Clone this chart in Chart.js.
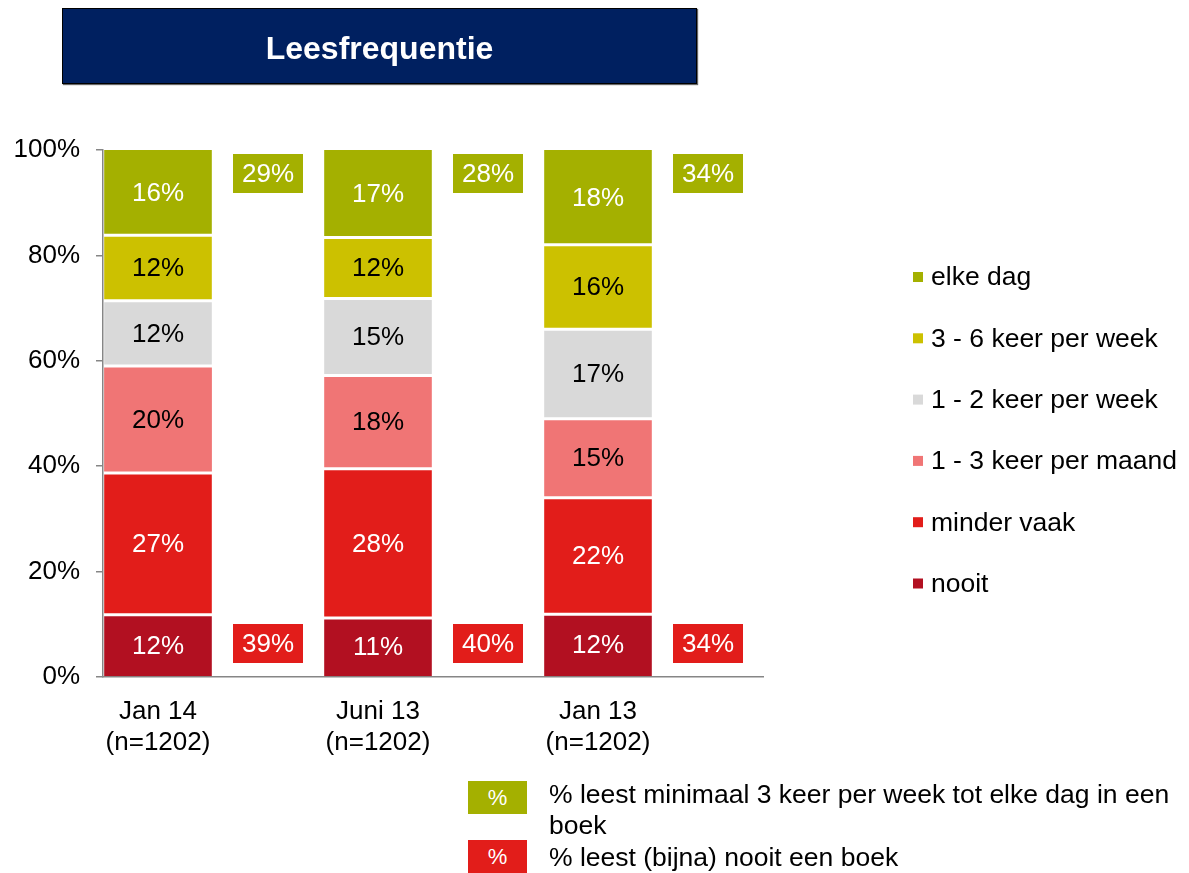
<!DOCTYPE html>
<html lang="nl">
<head>
<meta charset="utf-8">
<title>Leesfrequentie</title>
<script src="https://cdn.jsdelivr.net/npm/chart.js@4.4.0/dist/chart.umd.min.js"></script>
<style>
  html, body { margin: 0; padding: 0; background: #fff; }
  body { width: 1189px; height: 873px; position: relative; overflow: hidden;
         font-family: "Liberation Sans", Arial, sans-serif; }
  #chart { position: absolute; left: 0; top: 0; }
  .title { position: absolute; left: 62px; top: 8px; width: 633px; height: 74px;
           background: #002060; border: 1.5px solid #000; box-shadow: 1px 1px 1px #666;
           color: #fff; font-weight: bold; font-size: 32px; line-height: 78px; text-align: center; }
  .key-box { position: absolute; left: 468px; width: 59px; height: 33px; color: #fff;
             font-size: 22px; line-height: 33px; text-align: center; }
  .key-text { position: absolute; left: 549px; width: 640px; font-size: 26.5px; line-height: 31px; color: #000; }
</style>
</head>
<body>
<canvas id="chart" width="1189" height="873"></canvas>
<div class="title">Leesfrequentie</div>
<div class="key-box" style="top:781px; background:#A4B000;">%</div>
<div class="key-text" style="top:779px;">% leest minimaal 3 keer per week tot elke dag in een boek</div>
<div class="key-box" style="top:840px; background:#E21D1A;">%</div>
<div class="key-text" style="top:842px;">% leest (bijna) nooit een boek</div>
<script>
// periodes en steekproefgrootte
const periods = ['Jan 14', 'Juni 13', 'Jan 13'];
const sampleSizes = [1202, 1202, 1202];

// leesfrequentie in %, van onder naar boven gestapeld
const nooit = [11.8, 11.2, 11.9];
const minderVaak = [26.9, 28.3, 22.1];
const keerPerMaand13 = [20.3, 17.7, 15.0];
const keerPerWeek12 = [12.4, 14.6, 17.0];
const keerPerWeek36 = [12.4, 11.6, 16.0];
const elkeDag = [16.2, 16.6, 18.0];

// samenvattingen naast de staven
const minstens3xPerWeek = [29, 28, 34];
const bijnaNooit = [39, 40, 34];

const yTicks = [0, 20, 40, 60, 80, 100];

const seriesNames = ['nooit', 'minder vaak', '1 - 3 keer per maand', '1 - 2 keer per week', '3 - 6 keer per week', 'elke dag'];
const seriesValues = [nooit, minderVaak, keerPerMaand13, keerPerWeek12, keerPerWeek36, elkeDag];
const seriesColors = ['#B21021', '#E21D1A', '#F07575', '#D9D9D9', '#CCC100', '#A4B000'];
const labelColors = ['#fff', '#fff', '#000', '#000', '#000', '#fff'];

const FONT = '"Liberation Sans", Arial, sans-serif';

const datasets = seriesNames.map(function(name, i) {
    return {
        label: name,
        data: seriesValues[i],
        stack: 'freq',
        backgroundColor: seriesColors[i],
        borderColor: '#fff',
        borderSkipped: false,
        borderWidth: { top: i === seriesNames.length - 1 ? 0 : 1.5, bottom: i === 0 ? 0 : 1.5, left: 0, right: 0 }
    };
});
// lege stapel rechts van elke staaf, ruimte voor de samenvattingsvakjes
datasets.push({ label: '', data: periods.map(() => null), stack: 'summary', backgroundColor: 'rgba(0,0,0,0)' });

// percentages in de segmenten
const segmentLabels = {
    id: 'segmentLabels',
    afterDatasetsDraw(chart) {
        const ctx = chart.ctx;
        ctx.save();
        ctx.font = '26px ' + FONT;
        ctx.textAlign = 'center';
        ctx.textBaseline = 'middle';
        chart.data.datasets.forEach(function(ds, i) {
            if (ds.stack !== 'freq') return;
            chart.getDatasetMeta(i).data.forEach(function(bar, j) {
                ctx.fillStyle = labelColors[i];
                ctx.fillText(Math.round(ds.data[j]) + '%', bar.x, (bar.y + bar.base) / 2 + 1);
            });
        });
        ctx.restore();
    }
};

// groene en rode vakjes naast de staven
const summaryBoxes = {
    id: 'summaryBoxes',
    afterDatasetsDraw(chart) {
        const ctx = chart.ctx;
        const y = chart.scales.y;
        const meta = chart.getDatasetMeta(chart.data.datasets.length - 1);
        const w = 70, h = 39;
        ctx.save();
        ctx.font = '26px ' + FONT;
        ctx.textAlign = 'center';
        ctx.textBaseline = 'middle';
        meta.data.forEach(function(el, j) {
            const cx = el.x;
            const topY = y.getPixelForValue(100) + 4;
            const botY = y.getPixelForValue(0) - 14 - h;
            ctx.fillStyle = '#A4B000';
            ctx.fillRect(cx - w / 2, topY, w, h);
            ctx.fillStyle = '#E21D1A';
            ctx.fillRect(cx - w / 2, botY, w, h);
            ctx.fillStyle = '#fff';
            ctx.fillText(minstens3xPerWeek[j] + '%', cx, topY + h / 2 + 1);
            ctx.fillText(bijnaNooit[j] + '%', cx, botY + h / 2 + 1);
        });
        ctx.restore();
    }
};

// legenda rechts, bovenste reeks bovenaan
const sideLegend = {
    id: 'sideLegend',
    afterDraw(chart) {
        const ctx = chart.ctx;
        ctx.save();
        ctx.font = '26.5px ' + FONT;
        ctx.textAlign = 'left';
        ctx.textBaseline = 'middle';
        const n = seriesNames.length;
        for (let k = 0; k < n; k++) {
            const i = n - 1 - k;
            const cy = 277 + k * 61.3;
            ctx.fillStyle = seriesColors[i];
            ctx.fillRect(913, cy - 5, 10, 10);
            ctx.fillStyle = '#000';
            ctx.fillText(seriesNames[i], 931, cy + 1);
        }
        ctx.restore();
    }
};

new Chart(document.getElementById('chart'), {
    type: 'bar',
    data: {
        labels: periods.map((p, i) => [p, '(n=' + sampleSizes[i] + ')']),
        datasets: datasets
    },
    options: {
        responsive: false,
        animation: false,
        layout: { padding: { left: 0, top: 150, right: 426, bottom: 116 } },
        datasets: { bar: { categoryPercentage: 1, barPercentage: 0.98 } },
        plugins: { legend: { display: false }, tooltip: { enabled: false } },
        scales: {
            x: {
                stacked: true,
                grid: { drawOnChartArea: false, drawTicks: false },
                border: { color: '#868686', width: 1.5 },
                ticks: { color: '#000', font: { family: FONT, size: 26 }, padding: 19, labelOffset: -55, maxRotation: 0 },
                afterFit(scale) { scale.height = 80; }
            },
            y: {
                stacked: true,
                min: 0,
                max: 100,
                afterBuildTicks(scale) { scale.ticks = yTicks.map(v => ({ value: v })); },
                grid: { drawOnChartArea: false, drawTicks: true, tickLength: 7, color: '#868686', lineWidth: 1.5 },
                border: { color: '#868686', width: 1.5 },
                ticks: { color: '#000', font: { family: FONT, size: 26 }, padding: 16, callback: v => v + '%' },
                afterFit(scale) { scale.width = 103; }
            }
        }
    },
    plugins: [segmentLabels, summaryBoxes, sideLegend]
});
</script>
</body>
</html>
